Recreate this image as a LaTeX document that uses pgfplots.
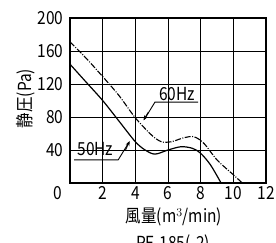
\documentclass[border=0pt]{standalone}
\usepackage{fontspec}
\setmainfont{Noto Sans CJK JP}[FakeStretch=0.86]
\usepackage{pgfplots}
\pgfplotsset{compat=1.18}
\usetikzlibrary{arrows.meta}
\begin{document}
\begin{tikzpicture}[font=\fontsize{18}{20}\selectfont]
\clip (-70pt,-59pt) rectangle (206pt,183pt);
\begin{axis}[
  at={(0pt,0pt)}, anchor=south west,
  width=196pt, height=165pt, scale only axis,
  xmin=0, xmax=12, ymin=0, ymax=200,
  xtick={2,4,...,12}, ytick={40,80,...,200},
  grid=major, major grid style={black, line width=0.6pt},
  axis line style={line width=1.1pt},
  major tick length=0pt,
  /pgf/number format/assume math mode=true,
  tick label style={font=\fontsize{18}{20}\selectfont},
  xticklabel style={anchor=center, yshift=-10pt},
  yticklabel style={anchor=east, xshift=-3pt},
  xlabel={風量(m$^3$/min)},
  ylabel={静圧(Pa)},
  xlabel style={at={(axis description cs:0.5,0)}, anchor=center, yshift=-34pt, xshift=6pt},
  ylabel style={at={(axis description cs:0,0.5)}, anchor=center, yshift=44pt, xshift=2pt},
  clip=true,
]
\addplot[black, line width=1.2pt, smooth, tension=0.5] coordinates {
(0,144) (1,122) (2,100) (3,75) (4,50) (4.6,40) (5.2,35) (6,40) (6.8,44) (7.5,42) (8,36) (8.6,22) (9.25,0)
};
\addplot[black, line width=1.1pt, smooth, tension=0.5, dash pattern=on 6pt off 1.5pt on 1pt off 1.5pt] coordinates {
(0,171) (1,151) (2,129) (3,106) (4,79) (5,58) (5.6,50) (6.2,50) (7,55) (7.6,56) (8.2,48) (9,28) (10,10) (10.55,0)
};
\node at (axis cs:6.55,108) {60Hz};
\draw[line width=0.9pt] (axis cs:7.85,98) -- (axis cs:5.2,98) -- (axis cs:4.55,77);
\draw[-{Stealth[length=5pt,width=4pt]}, line width=0.9pt] (axis cs:4.8,86) -- (axis cs:4.5,76);
\node at (axis cs:1.55,41) {50Hz};
\draw[line width=0.9pt] (axis cs:0.25,28) -- (axis cs:2.95,28) -- (axis cs:3.6,49);
\draw[-{Stealth[length=5pt,width=4pt]}, line width=0.9pt] (axis cs:3.4,40) -- (axis cs:3.65,51);
\end{axis}
\node at (-12pt,-10pt) {0};
\node[anchor=north] at (103pt,-48pt) {PF-185(-2)};
\end{tikzpicture}
\end{document}
